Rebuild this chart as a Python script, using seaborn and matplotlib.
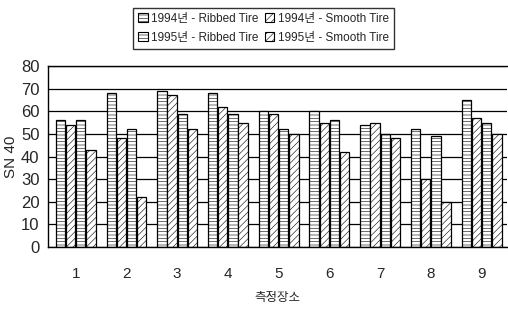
import numpy as np
import pandas as pd
import matplotlib
matplotlib.use("Agg")
import matplotlib.pyplot as plt
import seaborn as sns
from matplotlib.patches import Patch

# 측정장소별 SN 40 값
sites = ["1", "2", "3", "4", "5", "6", "7", "8", "9"]
ribbed_1994 = [56, 68, 69, 68, 60, 60, 54, 52, 65]
smooth_1994 = [54, 48, 67, 62, 59, 55, 55, 30, 57]
ribbed_1995 = [56, 52, 59, 59, 52, 56, 50, 49, 55]
smooth_1995 = [43, 22, 52, 55, 50, 42, 48, 20, 50]
series_names = ["1994년 - Ribbed Tire", "1994년 - Smooth Tire",
                "1995년 - Ribbed Tire", "1995년 - Smooth Tire"]
y_ticks = [0, 10, 20, 30, 40, 50, 60, 70, 80]

sns.set_theme(style="white")
plt.rcParams['font.family'] = ['Liberation Sans', 'Noto Sans CJK KR', 'DejaVu Sans']
plt.rcParams['hatch.linewidth'] = 0.4
plt.rcParams['axes.unicode_minus'] = False

rows = []
for name, vals in zip(series_names, [ribbed_1994, smooth_1994, ribbed_1995, smooth_1995]):
    for s, v in zip(sites, vals):
        rows.append({"site": s, "series": name, "value": v})
df = pd.DataFrame(rows)

fig = plt.figure(figsize=(5.08, 3.10), dpi=100)
ax = fig.add_axes([0.094, 0.203, 0.904, 0.584])

ax.yaxis.grid(True, color="black", linewidth=0.9)
ax.set_axisbelow(True)

sns.barplot(data=df, x="site", y="value", hue="series", hue_order=series_names,
            palette=["white"] * 4, edgecolor="black", linewidth=0.9,
            width=0.8, gap=0.08, ax=ax, legend=False)

hatches = ["-----", "/////", "-----", "/////"]
for cont, h in zip(ax.containers, hatches):
    for bar in cont:
        bar.set_hatch(h)

ax.set_ylim(0, 80)
ax.set_yticks(y_ticks)
ax.set_xlim(-0.55, 8.5)
ax.set_xlabel("측정장소", fontsize=9, labelpad=8)
ax.set_ylabel("SN 40", fontsize=11, labelpad=2)
ax.tick_params(axis="y", labelsize=12, length=0, pad=6)
ax.tick_params(axis="x", which="major", labelsize=11, length=0, pad=14)
ax.set_xticks(np.arange(0.5, 8.5, 1.0), minor=True)
ax.tick_params(axis="x", which="minor", direction="out", length=3, width=1, color="black")

for side in ["left", "bottom", "top"]:
    ax.spines[side].set_visible(True)
    ax.spines[side].set_color("black")
    ax.spines[side].set_linewidth(1.0)
ax.spines["right"].set_visible(False)

handles = [Patch(facecolor="white", edgecolor="black", hatch=h, linewidth=0.8) for h in hatches]
order = [0, 2, 1, 3]
leg = fig.legend([handles[i] for i in order], [series_names[i] for i in order],
                 ncol=2, loc="upper left", bbox_to_anchor=(0.262, 0.975),
                 frameon=True, fancybox=False, fontsize=8.5, handlelength=0.8,
                 handleheight=0.8, handletextpad=0.3, columnspacing=0.5,
                 labelspacing=0.55, borderpad=0.45, borderaxespad=0)
leg.get_frame().set_edgecolor("black")
leg.get_frame().set_linewidth(1.0)

fig.savefig("out.png", dpi=100)
